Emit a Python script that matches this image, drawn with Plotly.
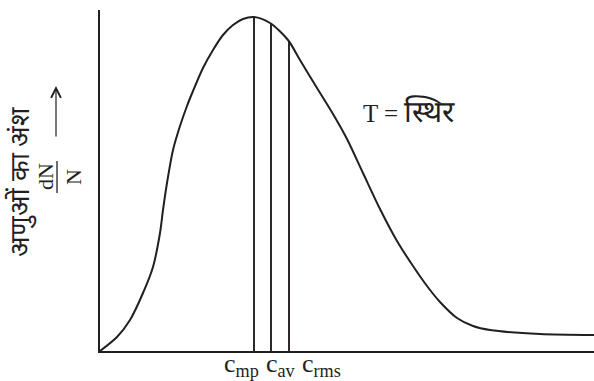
"""Maxwell speed distribution sketch (Hindi labels)."""

import plotly.graph_objects as go

# curve (arbitrary speed / fraction units)
speed = [0, 17, 30, 43, 53, 60, 63, 67, 73, 80, 87, 93, 103, 113, 123, 133, 143, 154,
         170, 188, 200, 217, 233, 247, 263, 280, 297, 313, 327, 340, 357, 373, 390, 440, 494]
fraction = [0, 14, 31, 58, 84, 118, 141, 168, 201, 225, 245, 260, 283, 301, 316, 326, 332, 334,
            328, 311, 291, 263, 237, 212, 178, 142, 110, 85, 65, 49, 33, 25, 21, 17, 16]

# characteristic speeds and the curve height at each
marker_speeds = [154, 171, 189]
marker_heights = [334, 328, 310]
marker_labels = ["c<sub>mp</sub>", "c<sub>av</sub>", "c<sub>rms</sub>"]

X_MAX = 494
Y_MAX = 341
INK = "#231f20"
SERIF = "Liberation Serif, Noto Serif, serif"

fig = go.Figure()
fig.add_trace(go.Scatter(x=speed, y=fraction, mode="lines",
                         line=dict(color=INK, width=2, shape="spline", smoothing=0.8)))
for s, h in zip(marker_speeds, marker_heights):
    fig.add_trace(go.Scatter(x=[s, s], y=[0, h], mode="lines", line=dict(color=INK, width=1.9)))


# screen pixel -> paper fraction
def px(x):
    return (x - 100) / X_MAX


def py(y):
    return (351 - y) / Y_MAX


label_left = [222, 264, 300]
for lx, txt in zip(label_left, marker_labels):
    fig.add_annotation(x=px(lx), y=py(365), xref="paper", yref="paper", text=txt,
                       showarrow=False, xanchor="left", yanchor="middle",
                       font=dict(family=SERIF, size=26, color=INK))

fig.add_annotation(x=px(361), y=py(112), xref="paper", yref="paper",
                   text="T = <span style='font-size:30px'>स्थिर</span>",
                   showarrow=False, xanchor="left", yanchor="middle",
                   font=dict(family=SERIF, size=25, color=INK))

# rotated y title
fig.add_annotation(x=px(20), y=py(182), xref="paper", yref="paper", text="अणुओं का अंश",
                   showarrow=False, textangle=-90, xanchor="center", yanchor="middle",
                   font=dict(family=SERIF, size=27, color=INK))
fig.add_annotation(x=px(45), y=py(177), xref="paper", yref="paper", text="dN",
                   showarrow=False, textangle=-90, xanchor="center", yanchor="middle",
                   font=dict(family=SERIF, size=22, color=INK))
fig.add_annotation(x=px(73), y=py(177), xref="paper", yref="paper", text="N",
                   showarrow=False, textangle=-90, xanchor="center", yanchor="middle",
                   font=dict(family=SERIF, size=22, color=INK))
fig.add_shape(type="line", xref="paper", yref="paper", x0=px(57), x1=px(57),
              y0=py(161), y1=py(193), line=dict(color=INK, width=1.3))
fig.add_annotation(x=px(56), y=py(86), xref="paper", yref="paper", text="",
                   showarrow=True, axref="pixel", ayref="pixel", ax=0, ay=52,
                   arrowhead=5, arrowsize=1.6, arrowwidth=1.2, arrowcolor=INK)

fig.update_layout(
    width=594, height=381,
    margin=dict(l=100, r=0, t=10, b=30, autoexpand=False),
    paper_bgcolor="white", plot_bgcolor="white",
    showlegend=False,
    xaxis=dict(range=[0, X_MAX], showgrid=False, zeroline=False, showticklabels=False,
               ticks="", showline=True, linecolor=INK, linewidth=2.2, automargin=False),
    yaxis=dict(range=[0, Y_MAX], showgrid=False, zeroline=False, showticklabels=False,
               ticks="", showline=True, linecolor=INK, linewidth=2.2, automargin=False),
)

# drop the default body margin so the figure sits flush in the window
fig.write_html("out.html", config={"displayModeBar": False},
               post_script="document.body.style.margin='0';document.body.style.overflow='hidden';")
